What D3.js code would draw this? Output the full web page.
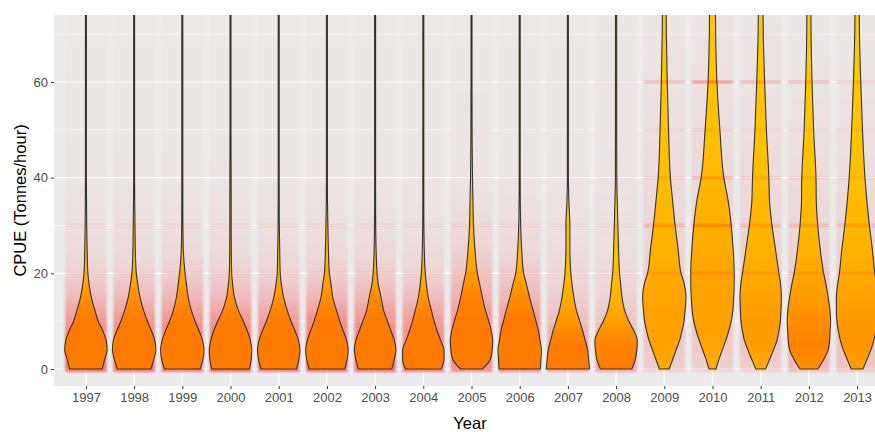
<!DOCTYPE html>
<html>
<head>
<meta charset="utf-8">
<script src="https://cdn.jsdelivr.net/npm/d3@7/dist/d3.min.js"></script>
<style>
  body { margin: 0; background: #fff; }
  svg { display: block; font-family: "Liberation Sans", Arial, sans-serif; }
</style>
</head>
<body>
<div id="chart"></div>
<script>
// categories on the x axis
const years = [1997, 1998, 1999, 2000, 2001, 2002, 2003, 2004, 2005, 2006, 2007, 2008, 2009, 2010, 2011, 2012, 2013];

const cpueLevels = [0, 2, 4, 6, 8, 10, 12, 15, 18, 20, 25, 30, 35, 40, 50, 60, 70, 80];

// violin density (arbitrary units, 22 = widest) per year, one row per year, at cpueLevels
const violinDensity = [
  [16.5, 19, 21.5, 20.5, 17, 12.5, 9.5, 5.5, 3, 2, 1.2, 0.8, 0.6, 0.5, 0.5, 0.5, 0.5, 0.5],
  [17, 20, 22, 21, 17.5, 13.5, 10, 6, 3.5, 2.2, 1.2, 0.9, 0.6, 0.5, 0.5, 0.5, 0.5, 0.5],
  [18, 21, 22, 20.5, 17, 13, 9.5, 6, 4, 2.8, 1, 0.6, 0.5, 0.5, 0.5, 0.5, 0.5, 0.5],
  [19, 21, 21.5, 20, 17, 13, 8.5, 4, 2, 1.2, 0.8, 0.7, 0.7, 0.6, 0.5, 0.5, 0.5, 0.5],
  [18, 20.5, 21.5, 20, 16.5, 12.5, 9, 5, 2.5, 1.5, 1, 0.6, 0.5, 0.5, 0.5, 0.5, 0.5, 0.5],
  [18, 20.5, 21.5, 20, 16.5, 13, 10, 6, 4, 2.5, 1.5, 1, 0.6, 0.5, 0.5, 0.5, 0.5, 0.5],
  [17, 19.5, 21, 19.5, 16, 12.5, 9, 6, 3, 2, 1, 0.6, 0.5, 0.5, 0.5, 0.5, 0.5, 0.5],
  [18, 21, 21, 17.5, 14, 11, 8.5, 5, 3, 2, 1, 0.6, 0.5, 0.5, 0.5, 0.5, 0.5, 0.5],
  [11, 19, 21, 21.5, 20, 17.5, 14.5, 11, 8, 6, 3.5, 2, 1.5, 1, 0.6, 0.5, 0.5, 0.5],
  [21, 21.5, 22, 20.5, 19, 16.5, 14, 10, 6.5, 4, 2, 1, 0.6, 0.5, 0.5, 0.5, 0.5, 0.5],
  [22, 21, 20, 17.5, 15, 12, 9, 6, 4, 3, 2, 2, 1, 0.5, 0.5, 0.5, 0.5, 0.5],
  [16, 19.5, 21, 21.5, 18, 13, 9, 6, 4.5, 3.5, 2.5, 1.8, 1.2, 0.7, 0.6, 0.6, 0.6, 0.6],
  [5, 8.5, 12, 15.5, 18, 20, 21, 22, 20, 17, 14, 11, 8.5, 6.2, 4.3, 3, 2.1, 1.8],
  [3.5, 6.5, 10, 13.5, 16.5, 19, 20.5, 21.5, 22, 22, 21, 19, 16, 11.5, 7.5, 4.5, 3.2, 2.8],
  [5, 9, 13, 16.5, 18.5, 20, 20.5, 21, 20, 18.5, 15, 11.5, 9, 8.3, 5.8, 4, 2.6, 2.2],
  [9, 15, 19.5, 21, 21.5, 22, 21.5, 19.5, 17, 15, 11.5, 9, 7.5, 7.2, 4.8, 3.2, 2.2, 2],
  [6, 10, 14, 17, 19, 20.5, 21, 21, 19.5, 18, 15.5, 12.5, 10, 8, 5.5, 3.7, 2.4, 2]
];

// CPUE values at which the density of the jittered points was read
const cloudLevels = [0, 5, 10, 15, 20, 25, 30, 40, 50, 60, 75];

// relative density of jittered points (0..1) per year at cloudLevels
const cloudDensity = [
  [0.9, 0.85, 0.65, 0.38, 0.2, 0.12, 0.09, 0.05, 0.03, 0.03, 0.02],
  [0.9, 0.85, 0.65, 0.38, 0.2, 0.12, 0.09, 0.05, 0.03, 0.03, 0.02],
  [0.85, 0.8, 0.65, 0.4, 0.22, 0.13, 0.09, 0.05, 0.03, 0.03, 0.02],
  [0.95, 0.9, 0.65, 0.38, 0.2, 0.12, 0.09, 0.05, 0.03, 0.03, 0.02],
  [0.85, 0.8, 0.6, 0.35, 0.18, 0.11, 0.08, 0.05, 0.03, 0.03, 0.02],
  [0.9, 0.85, 0.7, 0.4, 0.22, 0.13, 0.09, 0.05, 0.03, 0.03, 0.02],
  [0.9, 0.85, 0.65, 0.4, 0.22, 0.13, 0.09, 0.05, 0.03, 0.03, 0.02],
  [0.85, 0.75, 0.6, 0.35, 0.18, 0.11, 0.08, 0.05, 0.03, 0.03, 0.02],
  [0.7, 0.75, 0.65, 0.45, 0.3, 0.18, 0.12, 0.06, 0.04, 0.03, 0.02],
  [0.75, 0.7, 0.6, 0.4, 0.24, 0.14, 0.1, 0.05, 0.03, 0.03, 0.02],
  [0.55, 0.5, 0.35, 0.22, 0.14, 0.1, 0.08, 0.05, 0.03, 0.03, 0.02],
  [0.5, 0.45, 0.3, 0.18, 0.12, 0.09, 0.08, 0.06, 0.05, 0.04, 0.03],
  [0.22, 0.28, 0.28, 0.26, 0.22, 0.18, 0.16, 0.12, 0.09, 0.07, 0.05],
  [0.2, 0.26, 0.28, 0.28, 0.26, 0.22, 0.2, 0.15, 0.1, 0.08, 0.06],
  [0.22, 0.3, 0.3, 0.27, 0.22, 0.18, 0.16, 0.12, 0.09, 0.07, 0.05],
  [0.38, 0.45, 0.4, 0.3, 0.24, 0.18, 0.15, 0.11, 0.08, 0.06, 0.04],
  [0.3, 0.34, 0.32, 0.27, 0.22, 0.18, 0.15, 0.11, 0.08, 0.06, 0.04]
];

// rounded CPUE values that show up as horizontal streaks of points
const streakLevels = [20, 30, 40, 50, 60];

// streak strength (0..1) per year at streakLevels
const streakDensity = [
  [0.12, 0.12, 0, 0, 0.03],
  [0.12, 0.12, 0, 0, 0.03],
  [0.12, 0.12, 0, 0, 0.03],
  [0.12, 0.12, 0, 0, 0.03],
  [0.12, 0.12, 0, 0, 0.03],
  [0.12, 0.12, 0, 0, 0.03],
  [0.12, 0.12, 0, 0, 0.03],
  [0.12, 0.12, 0, 0, 0.03],
  [0.12, 0.15, 0.04, 0.04, 0.04],
  [0.12, 0.15, 0.04, 0.04, 0.04],
  [0.1, 0.12, 0.04, 0.04, 0.04],
  [0.12, 0.12, 0.06, 0.06, 0.06],
  [0.25, 0.4, 0.18, 0.12, 0.4],
  [0.3, 0.5, 0.4, 0.18, 0.7],
  [0.25, 0.35, 0.22, 0.12, 0.45],
  [0.25, 0.35, 0.18, 0.12, 0.4],
  [0.25, 0.35, 0.12, 0.12, 0.25]
];

const yTicks = [0, 20, 40, 60];
const yMinorTicks = [10, 30, 50, 70];

const W = 875, H = 432;
const panel = { left: 54, top: 15, bottom: 386, right: 886 };

const svg = d3.select("#chart").append("svg")
  .attr("width", W)
  .attr("height", H);

const x = d3.scalePoint()
  .domain(years)
  .range([panel.left + 3, panel.right])
  .padding(0.6);

const y = d3.scaleLinear()
  .domain([-3.55, 74])
  .range([panel.bottom, panel.top]);

// violin half width (max = 0.45 of a category step, ggplot's default width 0.9)
const halfW = d3.scaleLinear().domain([0, 22]).range([0, 0.45 * x.step()]);
// point density -> alpha of the red points, outside and inside the violin
const alphaOut = d3.scaleLinear().domain([0, 1]).range([0, 0.55]);
const alphaIn = d3.scaleLinear().domain([0, 0.5]).range([0, 0.42]).clamp(true);
const jitterHalf = 0.4 * x.step() + 1.5;

const defs = svg.append("defs");
defs.append("clipPath").attr("id", "panelClip")
  .append("rect")
  .attr("x", panel.left).attr("y", panel.top)
  .attr("width", panel.right - panel.left).attr("height", panel.bottom - panel.top);
defs.append("filter").attr("id", "soft")
  .attr("x", "-20%").attr("y", "-5%").attr("width", "140%").attr("height", "110%")
  .append("feGaussianBlur").attr("stdDeviation", 1.3);

// panel background + grid
svg.append("rect")
  .attr("x", panel.left).attr("y", panel.top)
  .attr("width", panel.right - panel.left).attr("height", panel.bottom - panel.top)
  .attr("fill", "#ebebeb");

const grid = svg.append("g").attr("clip-path", "url(#panelClip)");
grid.selectAll("line.minor").data(yMinorTicks).enter().append("line")
  .attr("x1", panel.left).attr("x2", panel.right)
  .attr("y1", d => y(d)).attr("y2", d => y(d))
  .attr("stroke", "#fff").attr("stroke-width", 0.6);
grid.selectAll("line.major").data(yTicks).enter().append("line")
  .attr("x1", panel.left).attr("x2", panel.right)
  .attr("y1", d => y(d)).attr("y2", d => y(d))
  .attr("stroke", "#fff").attr("stroke-width", 1.2);
grid.selectAll("line.vmajor").data(years).enter().append("line")
  .attr("x1", d => x(d)).attr("x2", d => x(d))
  .attr("y1", panel.top).attr("y2", panel.bottom)
  .attr("stroke", "#fff").attr("stroke-width", 1.2);

// violins
const area = d3.area()
  .y(d => y(d.v))
  .x0(d => -halfW(d.w))
  .x1(d => halfW(d.w))
  .curve(d3.curveMonotoneY);

const plot = svg.append("g").attr("clip-path", "url(#panelClip)");

function cloudGradient(id, dens, scale) {
  const y0 = y(0), yTop = y(cloudLevels[cloudLevels.length - 1]);
  const grad = defs.append("linearGradient")
    .attr("id", id)
    .attr("gradientUnits", "userSpaceOnUse")
    .attr("x1", 0).attr("x2", 0).attr("y1", y0).attr("y2", yTop);
  cloudLevels.forEach((v, k) => {
    grad.append("stop")
      .attr("offset", (y(v) - y0) / (yTop - y0))
      .attr("stop-color", "#f00")
      .attr("stop-opacity", scale(dens[k]));
  });
}

years.forEach((yr, i) => {
  const g = plot.append("g").attr("transform", `translate(${x(yr)},0)`);
  const shape = cpueLevels.map((v, k) => ({ v: v, w: violinDensity[i][k] }));
  const path = area(shape);
  const y0 = y(0), yTop = y(cloudLevels[cloudLevels.length - 1]);

  cloudGradient("cloudOut" + yr, cloudDensity[i], alphaOut);
  cloudGradient("cloudIn" + yr, cloudDensity[i], alphaIn);
  defs.append("clipPath").attr("id", "vclip" + yr)
    .append("path").attr("d", path);

  // jittered points around the violin
  g.append("rect")
    .attr("x", -jitterHalf).attr("width", 2 * jitterHalf)
    .attr("y", yTop).attr("height", y0 - yTop + 3)
    .attr("fill", `url(#cloudOut${yr})`)
    .attr("filter", "url(#soft)");

  // violin body
  g.append("path").attr("d", path).attr("fill", "#ffd200");

  // points seen over the violin body
  g.append("g").attr("clip-path", `url(#vclip${yr})`)
    .append("rect")
    .attr("x", -jitterHalf).attr("width", 2 * jitterHalf)
    .attr("y", yTop).attr("height", y0 - yTop + 3)
    .attr("fill", `url(#cloudIn${yr})`);

  // streaks at rounded CPUE values
  g.selectAll("rect.streak")
    .data(streakLevels.map((v, k) => ({ v: v, s: streakDensity[i][k] })))
    .enter().append("rect")
    .attr("class", "streak")
    .attr("x", -jitterHalf).attr("width", 2 * jitterHalf)
    .attr("y", d => y(d.v) - 1.5).attr("height", 3)
    .attr("fill", "#f00")
    .attr("fill-opacity", d => alphaOut(d.s))
    .attr("filter", "url(#soft)");

  // violin outline
  g.append("path").attr("d", path)
    .attr("fill", "none")
    .attr("stroke", "#333")
    .attr("stroke-width", 1.1);
});

// axes
const yAxis = svg.append("g")
  .attr("transform", `translate(${panel.left},0)`)
  .call(d3.axisLeft(y).tickValues(yTicks).tickSize(3).tickPadding(3));
const xAxis = svg.append("g")
  .attr("transform", `translate(0,${panel.bottom})`)
  .call(d3.axisBottom(x).tickSize(3).tickPadding(4));

[yAxis, xAxis].forEach(ax => {
  ax.select(".domain").remove();
  ax.selectAll(".tick line").attr("stroke", "#333");
  ax.selectAll(".tick text")
    .attr("fill", "#4d4d4d")
    .style("font-size", "13px")
    .style("font-family", '"Liberation Sans", Arial, sans-serif');
});

svg.append("text")
  .attr("x", (panel.left + panel.right) / 2)
  .attr("y", 429)
  .attr("text-anchor", "middle")
  .style("font-size", "16.5px")
  .attr("fill", "#000")
  .text("Year");

svg.append("text")
  .attr("transform", `translate(20,${(panel.top + panel.bottom) / 2}) rotate(-90)`)
  .attr("text-anchor", "middle")
  .attr("dy", "0.35em")
  .style("font-size", "16.5px")
  .attr("fill", "#000")
  .text("CPUE (Tonnes/hour)");
</script>
</body>
</html>
